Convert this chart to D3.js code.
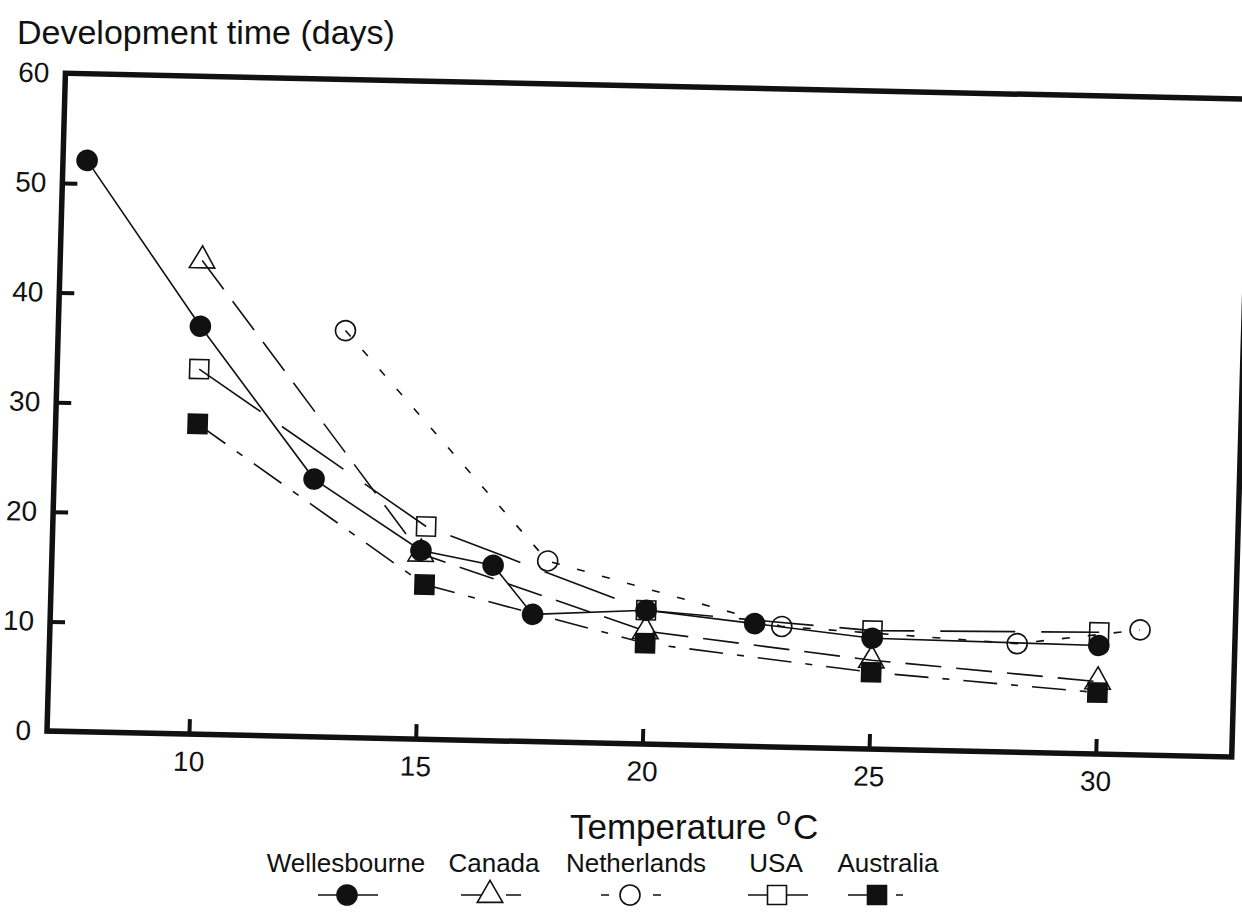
<!DOCTYPE html>
<html>
<head>
<meta charset="utf-8">
<script src="https://cdn.jsdelivr.net/npm/d3@7/dist/d3.min.js"></script>
<style>
  body { margin: 0; background: #fff; }
  text { font-family: "Liberation Sans", Arial, sans-serif; fill: #111; }
</style>
</head>
<body>
<svg id="chart" width="1242" height="921"></svg>
<script>
// values (temperature in C, development time in days)
const seriesNames = ["Wellesbourne", "Canada", "Netherlands", "USA", "Australia"];
const wellesbourneTemp = [7.4, 10, 12.6, 15, 16.6, 17.5, 20, 22.4, 25, 30];
const wellesbourneDays = [52.1, 37.2, 23.5, 17.2, 16.0, 11.6, 12.2, 11.2, 10.1, 9.9];
const canadaTemp = [10, 15, 20, 25, 30];
const canadaDays = [43.2, 16.9, 10.3, 8.1, 6.6];
const netherlandsTemp = [13.2, 17.8, 23, 28.2, 30.9];
const netherlandsDays = [37.1, 16.5, 11.0, 9.9, 11.4];
const usaTemp = [10, 15.1, 20, 25, 30];
const usaDays = [33.3, 19.4, 12.2, 10.8, 11.1];
const australiaTemp = [10, 15.1, 20, 25, 30];
const australiaDays = [28.3, 14.1, 9.2, 7.0, 5.6];
const xTicks = [10, 15, 20, 25, 30];
const yTicks = [0, 10, 20, 30, 40, 50, 60];

const svg = d3.select("#chart");

// plot box in its own (un-tilted) frame; the scan is slightly skewed
const W = 1185, H = 658;
const x = d3.scaleLinear().domain([10, 30]).range([142, 1049]);
const y = d3.scaleLinear().domain([0, 60]).range([0, -H]);

const g = svg.append("g")
  .attr("transform", "matrix(0.99976,0.0219,-0.028,0.9996,47,731)");

const series = [
  { name: seriesNames[0], t: wellesbourneTemp, v: wellesbourneDays, dash: null, sym: "circle", fill: true },
  { name: seriesNames[1], t: canadaTemp, v: canadaDays, dash: "36,15", sym: "triangle", fill: false },
  { name: seriesNames[2], t: netherlandsTemp, v: netherlandsDays, dash: "8,18", sym: "circle", fill: false },
  { name: seriesNames[3], t: usaTemp, v: usaDays, dash: "75,26", sym: "square", fill: false },
  { name: seriesNames[4], t: australiaTemp, v: australiaDays, dash: "34,14,7,14", sym: "square", fill: true }
];

const symPath = (s) => {
  if (s === "circle") return d3.symbol(d3.symbolCircle, Math.PI * 100)();
  if (s === "square") return d3.symbol(d3.symbolSquare, 19 * 19)();
  return d3.symbol(d3.symbolTriangle, 280)();
};

// axes
const xAxis = g.append("g")
  .call(d3.axisBottom(x).tickValues(xTicks).tickSizeInner(-15).tickSizeOuter(0).tickPadding(17));
const yAxis = g.append("g")
  .call(d3.axisLeft(y).tickValues(yTicks).tickSizeInner(-15).tickSizeOuter(0).tickPadding(16));

[xAxis, yAxis].forEach(a => {
  a.select(".domain").remove();
  a.selectAll(".tick line").attr("stroke", "#111").attr("stroke-width", 4);
  a.selectAll(".tick text").attr("font-size", 28).attr("font-family", "Liberation Sans, Arial, sans-serif").attr("fill", "#111");
});

// frame
g.append("rect")
  .attr("x", 0).attr("y", -H).attr("width", W).attr("height", H)
  .attr("fill", "none").attr("stroke", "#111").attr("stroke-width", 5.5);

const line = d3.line().x(d => x(d[0])).y(d => y(d[1]));

series.forEach(s => {
  const pts = s.t.map((t, i) => [t, s.v[i]]);
  g.append("path")
    .datum(pts)
    .attr("d", line)
    .attr("fill", "none")
    .attr("stroke", "#111")
    .attr("stroke-width", 1.6)
    .attr("stroke-dasharray", s.dash);
});

series.forEach(s => {
  const pts = s.t.map((t, i) => [t, s.v[i]]);
  g.selectAll(null)
    .data(pts)
    .enter().append("path")
    .attr("d", symPath(s.sym))
    .attr("transform", d => `translate(${x(d[0])},${y(d[1])})`)
    .attr("fill", s.fill ? "#111" : "none")
    .attr("stroke", "#111")
    .attr("stroke-width", 1.6);
});

// titles
svg.append("text")
  .attr("x", 17).attr("y", 44)
  .attr("font-size", 34)
  .text("Development time (days)");

const xt = svg.append("text")
  .attr("x", 570).attr("y", 839)
  .attr("font-size", 35);
xt.append("tspan").text("Temperature");
xt.append("tspan").attr("font-size", 26).attr("dx", 10).attr("dy", -14).text("o");
xt.append("tspan").attr("dx", 2).attr("dy", 14).text("C");

// legend
const legendTextX = [346, 494, 636, 776, 888];
const legendSymX = [347, 490, 630, 777, 877];
const legend = svg.append("g");
series.forEach((s, i) => {
  const sx = legendSymX[i];
  legend.append("text")
    .attr("x", legendTextX[i]).attr("y", 872)
    .attr("text-anchor", "middle")
    .attr("font-size", 26)
    .text(s.name);
  legend.append("line")
    .attr("x1", sx - 29).attr("x2", sx + 31)
    .attr("y1", 895).attr("y2", 895)
    .attr("stroke", "#111").attr("stroke-width", 1.6)
    .attr("stroke-dasharray", s.dash)
    .attr("stroke-dashoffset", i === 1 ? 6 : 0);
  legend.append("path")
    .attr("d", symPath(s.sym))
    .attr("transform", `translate(${sx},${895})`)
    .attr("fill", s.fill ? "#111" : "#fff")
    .attr("stroke", "#111")
    .attr("stroke-width", 1.6);
});
</script>
</body>
</html>
